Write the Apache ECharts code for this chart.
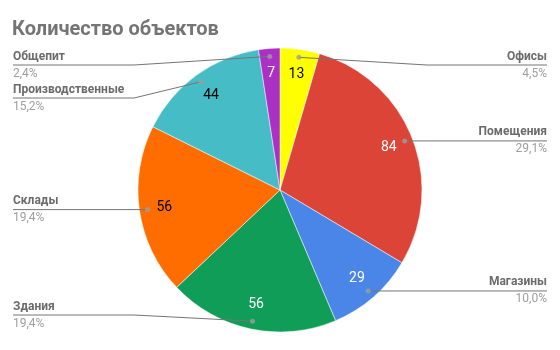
<!DOCTYPE html>
<html>
<head>
<meta charset="utf-8">
<script src="https://cdn.jsdelivr.net/npm/echarts@6/dist/echarts.min.js"></script>
<style>html,body{margin:0;padding:0;background:#fff}#c{width:560px;height:350px}</style>
</head>
<body>
<div id="c"></div>
<script>
var titleText = 'Количество объектов';
var categories = ['Офисы', 'Помещения', 'Магазины', 'Здания', 'Склады', 'Производственные', 'Общепит'];
var values = [13, 84, 29, 56, 56, 44, 7];
var colors = ['#ffff00', '#db4437', '#4a86e8', '#0f9d58', '#ff6d01', '#46bdc6', '#ab30c4'];
var valueLabelColors = ['#000000', '#ffffff', '#ffffff', '#ffffff', '#000000', '#000000', '#ffffff'];

var total = values.reduce(function (a, b) { return a + b; }, 0);
var mids = [];
var acc = 0;
values.forEach(function (v) { mids.push(acc + v / 2); acc += v; });

var CX = 280, CY = 190, R = 142, RDOT = 134;
var LABEL_TOP = 65, LABEL_BOTTOM = 315, LABEL_GAP = 33;
var FONT = 'Roboto, "Noto Sans", sans-serif';

// Google-style vertical placement of outer labels: start at the anchor dot height,
// keep inside the bounds and avoid overlaps on each side.
function computeLabelY() {
  var out = [];
  var sides = { left: [], right: [] };
  mids.forEach(function (m, i) {
    var a = 2 * Math.PI * m / total;
    var y = CY - RDOT * Math.cos(a);
    (Math.sin(a) < 0 ? sides.left : sides.right).push({ i: i, y: y });
  });
  ['left', 'right'].forEach(function (s) {
    var list = sides[s].sort(function (a, b) { return a.y - b.y; });
    for (var k = 0; k < list.length; k++) {
      var lo = k === 0 ? LABEL_TOP : list[k - 1].y + LABEL_GAP;
      list[k].y = Math.max(list[k].y, lo);
    }
    for (var k2 = list.length - 1; k2 >= 0; k2--) {
      var hi = k2 === list.length - 1 ? LABEL_BOTTOM : list[k2 + 1].y - LABEL_GAP;
      list[k2].y = Math.min(list[k2].y, hi);
    }
    list.forEach(function (it) { out[it.i] = it.y; });
  });
  return out;
}
var labelY = computeLabelY();

var chart = echarts.init(document.getElementById('c'), null, { renderer: 'canvas' });

var pieData = categories.map(function (n, i) {
  return { name: n, value: values[i], itemStyle: { color: colors[i] } };
});
var valueData = categories.map(function (n, i) {
  return { name: n, value: values[i], label: { color: valueLabelColors[i] } };
});
var dotData = categories.map(function (n, i) { return [RDOT, mids[i]]; });

chart.setOption({
  animation: false,
  backgroundColor: '#ffffff',
  title: {
    text: titleText,
    left: 12, top: 20, padding: 0,
    textStyle: { fontFamily: FONT, fontSize: 20, fontWeight: 'bold', color: '#757575' }
  },
  polar: { center: [CX, CY], radius: R },
  angleAxis: { type: 'value', min: 0, max: total, startAngle: 90, clockwise: true, show: false },
  radiusAxis: { type: 'value', min: 0, max: R, show: false },
  series: [
    {
      type: 'pie',
      center: [CX, CY],
      radius: [0, R],
      startAngle: 90,
      clockwise: true,
      silent: true,
      data: pieData,
      label: { show: false },
      labelLine: { show: false },
      itemStyle: { borderColor: '#ffffff', borderWidth: 0.5 },
      z: 1
    },
    {
      type: 'pie',
      center: [CX, CY],
      radius: [86, R],
      startAngle: 90,
      clockwise: true,
      silent: true,
      data: valueData,
      itemStyle: { color: 'transparent' },
      label: {
        show: true, position: 'inside',
        formatter: '{c}',
        fontFamily: FONT, fontSize: 14
      },
      labelLine: { show: false },
      z: 3
    },
    {
      type: 'pie',
      center: [CX, CY],
      radius: [0, RDOT],
      startAngle: 90,
      clockwise: true,
      silent: true,
      avoidLabelOverlap: false,
      data: categories.map(function (n, i) { return { name: n, value: values[i] }; }),
      itemStyle: { color: 'transparent' },
      label: {
        show: true,
        position: 'outer',
        alignTo: 'edge',
        edgeDistance: 13,
        formatter: function (p) {
          var pct = (p.value / total * 100).toFixed(1).replace('.', ',');
          return '{n|' + p.name + '}\n{p|' + pct + '%}';
        },
        rich: {
          n: { fontFamily: FONT, fontSize: 12, fontWeight: 'bold', color: '#6b6b6b', lineHeight: 17 },
          p: { fontFamily: FONT, fontSize: 12, color: '#9e9e9e', lineHeight: 17 }
        }
      },
      labelLine: {
        show: true, length: 1, length2: 0,
        lineStyle: { color: '#757575', width: 1 }
      },
      labelLayout: function (params) {
        var r = params.labelRect;
        var pts = params.labelLinePoints;
        var i = params.dataIndex;
        var isLeft = r.x + r.width / 2 < CX;
        var y = labelY[i];
        var dy = y - (r.y + r.height / 2);
        var p0 = pts ? pts[0] : [CX, CY];
        var p1 = [isLeft ? CX - R - 4 : CX + R + 5, y];
        var p2 = [isLeft ? r.x : r.x + r.width, y];
        return { dy: dy, labelLinePoints: [p0, p1, p2] };
      },
      z: 4
    },
    {
      type: 'scatter',
      coordinateSystem: 'polar',
      data: dotData,
      symbol: 'circle',
      symbolSize: 5,
      silent: true,
      itemStyle: { color: '#9e9e9e' },
      z: 5
    }
  ]
});
</script>
</body>
</html>
